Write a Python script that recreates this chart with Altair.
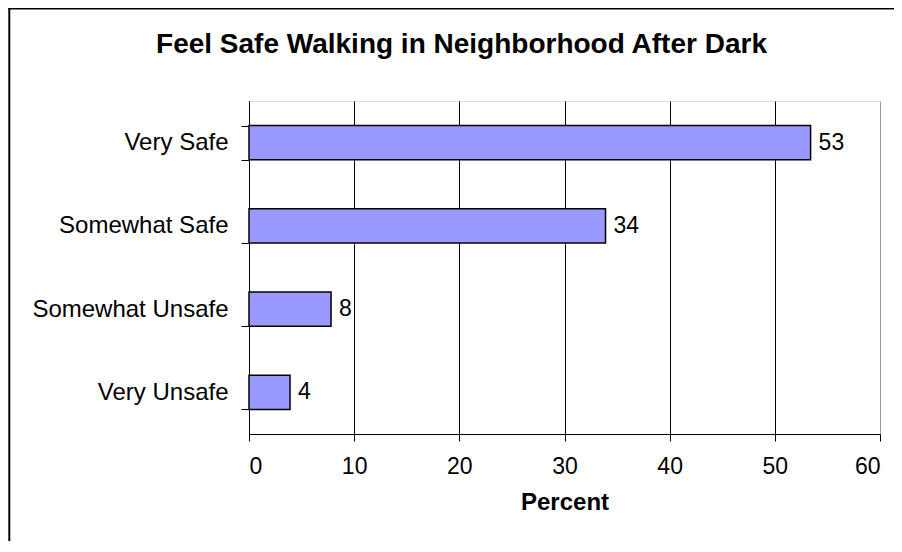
import altair as alt
import pandas as pd

categories = ["Very Safe", "Somewhat Safe", "Somewhat Unsafe", "Very Unsafe"]
percent = [53.4, 33.9, 7.8, 3.9]
x_ticks = [0, 10, 20, 30, 40, 50, 60]
title_text = "Feel Safe Walking in Neighborhood After Dark"

FONT = "Liberation Sans, Arial, Helvetica, sans-serif"

df = pd.DataFrame({"category": categories, "percent": percent})

y_enc = alt.Y(
    "category:N",
    sort=categories,
    scale=alt.Scale(paddingInner=0.59, paddingOuter=0.295),
    axis=alt.Axis(
        title=None,
        tickBand="extent",
        tickSize=8,
        tickColor="black",
        domainColor="black",
        labelColor="black",
        labelFontSize=24,
        labelFont=FONT,
        labelPadding=13,
        labelLimit=400,
        grid=False,
    ),
)

x_enc = alt.X(
    "percent:Q",
    scale=alt.Scale(domain=[0, 60], nice=False, zero=True),
    axis=alt.Axis(
        values=x_ticks,
        title="Percent",
        titleFont=FONT,
        titleFontSize=24,
        titleFontWeight="bold",
        titleColor="black",
        titlePadding=12,
        labelFont=FONT,
        labelFontSize=23,
        labelColor="black",
        labelPadding=14,
        tickSize=7,
        tickColor="black",
        domainColor="black",
        grid=True,
        gridColor={"condition": {"test": "datum.value === 60", "value": "#999999"}, "value": "black"},
        gridWidth=1,
    ),
)

base = alt.Chart(df)

bars = base.mark_bar(fill="#9999FF", stroke="black", strokeWidth=1.5).encode(x=x_enc, y=y_enc)

labels = base.mark_text(
    align="left", baseline="middle", dx=8, fontSize=23, font=FONT, color="black"
).encode(
    x=alt.X("percent:Q"),
    y=alt.Y("category:N", sort=categories),
    text=alt.Text("percent:Q", format=".0f"),
)

frame_df = pd.DataFrame({"k": [0]})
left_line = alt.Chart(frame_df).mark_rule(color="black", strokeWidth=2).encode(
    x=alt.value(-239.7), y=alt.value(-93), y2=alt.value(440)
)
top_line = alt.Chart(frame_df).mark_rule(color="black", strokeWidth=2).encode(
    x=alt.value(-240.7), x2=alt.value(650), y=alt.value(-92.5)
)

chart = (
    alt.layer(bars, labels, left_line, top_line)
    .properties(
        width=631,
        height=333,
        title=alt.TitleParams(
            title_text,
            anchor="middle",
            frame="group",
            dx=-103,
            offset=-73.5,
            baseline="alphabetic",
            font=FONT,
            fontSize=28,
            fontWeight="bold",
            color="black",
        ),
        autosize=alt.AutoSizeParams(type="none"),
        padding={"left": 241, "top": 93, "right": 14, "bottom": 110},
    )
    .configure_view(stroke="#999999", strokeWidth=1)
    .configure(background="white")
)

chart.save("out.html", embed_options={"renderer": "svg", "actions": False})
